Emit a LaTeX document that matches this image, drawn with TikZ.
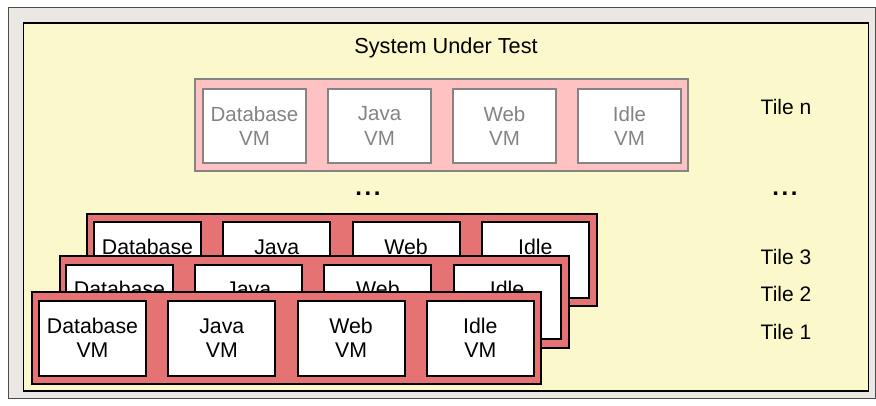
\documentclass[tikz,border=0pt]{standalone}
\usepackage{fontspec}
\setmainfont{Liberation Sans}
\definecolor{framegray}{HTML}{EBE8E3}
\definecolor{sutyellow}{HTML}{FBF9CB}
\definecolor{tilered}{HTML}{E57373}
\definecolor{tilepink}{HTML}{FFC2C2}
\definecolor{fadegray}{HTML}{848484}
\newcommand{\spaceddots}{.\kern2.6pt.\kern2.6pt.}
\tikzset{
  tilebox/.style={draw=black, line width=2pt, fill=tilered},
  fadetile/.style={draw=fadegray, line width=2pt, fill=tilepink},
  vmbox/.style={draw=black, line width=2pt, fill=white, inner sep=0pt,
    align=center, font=\fontsize{21.3}{24.5}\selectfont, text=black},
  fadevm/.style={vmbox, draw=fadegray, text=fadegray, font=\fontsize{20.5}{24.5}\selectfont},
  label/.style={font=\fontsize{21}{24}\selectfont, inner sep=0pt},
  dotlabel/.style={font=\bfseries\fontsize{24}{24}\selectfont, inner sep=0pt},
}
\begin{document}
\begin{tikzpicture}[x=1pt, y=-1pt]
\useasboundingbox (0,0) rectangle (876,405);
% outer frame and system area
\draw[fill=framegray, draw=black!70, line width=1pt] (8,7) rectangle (875.5,398.5);
\draw[fill=sutyellow, draw=black, line width=1.5pt] (23.5,23) rectangle (868.5,391);
\node[label, font=\fontsize{21.7}{24}\selectfont] (sut) at (446,47.5) {System Under Test};

% tile n (faded)
\draw[fadetile] (195,79) rectangle (688,171);
\foreach \name/\txt [count=\i from 0] in {nd/Database, nj/Java, nw/Web, ni/Idle}
  \node[fadevm, minimum width=103pt, minimum height=74pt] (\name) at (254.5+125*\i,126) {\txt\\VM};

\node[dotlabel] (dotsmid) at (368,194) {\spaceddots};

% tile 3
\draw[tilebox] (87,213.5) rectangle (597,305.5);
\foreach \name/\txt [count=\i from 0] in {cd/Database, cj/Java, cw/Web, ci/Idle}
  \node[vmbox, minimum width=107pt, minimum height=76pt] (\name) at (147.5+129.3*\i,259.5) {\txt\\VM};

% tile 2
\draw[tilebox] (59.5,256) rectangle (569,347.5);
\foreach \name/\txt [count=\i from 0] in {bd/Database, bj/Java, bw/Web, bi/Idle}
  \node[vmbox, minimum width=107pt, minimum height=74pt] (\name) at (119.5+129.2*\i,301.5) {\txt\\VM};

% tile 1
\draw[tilebox] (32,292) rectangle (541,384);
\foreach \name/\txt [count=\i from 0] in {ad/Database, aj/Java, aw/Web, ai/Idle}
  \node[vmbox, minimum width=107pt, minimum height=75pt] (\name) at (92.5+129.3*\i,338) {\txt\\VM};

% tile labels
\node[label] (ltn) at (786,107) {Tile n};
\node[dotlabel] (ldots) at (785,194) {\spaceddots};
\node[label] (lt3) at (786,257) {Tile 3};
\node[label] (lt2) at (786,294) {Tile 2};
\node[label] (lt1) at (786,332) {Tile 1};
\end{tikzpicture}
\end{document}
